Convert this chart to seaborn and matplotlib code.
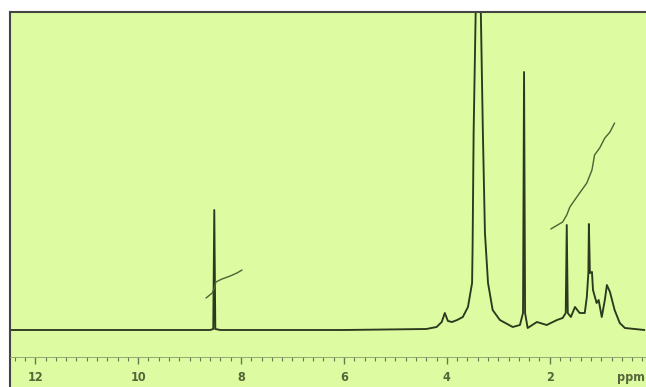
import matplotlib
matplotlib.use("Agg")
import matplotlib.pyplot as plt
import seaborn as sns
import pandas as pd

# 1H NMR trace: chemical shift (ppm) and height (px above baseline)
spec_ppm = [12.49, 10.0, 8.60, 8.54, 8.52, 8.50, 8.40, 6.0, 4.40, 4.20, 4.10, 4.04,
            3.98, 3.90, 3.80, 3.69, 3.59, 3.51, 3.50, 3.48, 3.44, 3.39, 3.34, 3.30,
            3.26, 3.20, 3.11, 2.97, 2.72, 2.58, 2.52, 2.50, 2.48, 2.43, 2.25, 2.06,
            1.86, 1.75, 1.69, 1.67, 1.65, 1.59, 1.51, 1.42, 1.32, 1.28, 1.25, 1.24,
            1.22, 1.18, 1.16, 1.09, 1.05, 0.99, 0.93, 0.89, 0.83, 0.74, 0.64, 0.54,
            0.16]
spec_int = [0, 0, 0, 1, 120, 1, 0, 0, 1, 3, 8, 17,
            9, 8, 10, 13, 23, 47, 83, 197, 318, 600, 318, 197,
            97, 47, 20, 10, 3, 5, 17, 258, 17, 2, 8, 5,
            10, 12, 17, 105, 17, 13, 23, 17, 17, 33, 57, 106,
            57, 58, 40, 27, 30, 13, 30, 45, 38, 20, 7, 2,
            0]

# integral traces
int1_ppm = [8.68, 8.56, 8.51, 8.49, 8.37, 8.21, 8.08, 7.98]
int1_val = [32, 37, 43, 48, 51, 54, 57, 60]
int2_ppm = [1.98, 1.75, 1.67, 1.61, 1.42, 1.28, 1.18, 1.13, 1.03, 0.93, 0.83, 0.74]
int2_val = [101, 108, 115, 123, 137, 147, 160, 175, 182, 192, 198, 207]

tick_ppm = [12, 10, 8, 6, 4, 2]

bg = "#ddfba0"
ink = "#2b3a1e"
label_font = ["Liberation Sans Narrow", "DejaVu Sans"]

sns.set_style("white")
fig = plt.figure(figsize=(6.46, 3.87), dpi=100, facecolor="white")
ax = fig.add_axes([10 / 646, 0, 636 / 646, 375 / 387])
ax.set_facecolor(bg)

spec = pd.DataFrame({"ppm": spec_ppm, "h": spec_int})
sns.lineplot(data=spec, x="ppm", y="h", sort=False, estimator=None,
             color=ink, linewidth=1.35, ax=ax)
sns.lineplot(x=int1_ppm, y=int1_val, sort=False, estimator=None,
             color="#4f6136", linewidth=1.0, ax=ax)
sns.lineplot(x=int2_ppm, y=int2_val, sort=False, estimator=None,
             color="#4f6136", linewidth=1.0, ax=ax)

ax.set_xlim(12.49, 0.13)
ax.set_ylim(-57, 318)

ax.spines["right"].set_visible(False)
ax.spines["top"].set_color("#444444")
ax.spines["left"].set_color("#444444")
ax.spines["top"].set_linewidth(1.5)
ax.spines["left"].set_linewidth(1.5)
ax.spines["bottom"].set_position(("data", -27))
ax.spines["bottom"].set_color("#8a9a70")
ax.spines["bottom"].set_linewidth(0.6)

ax.set_xticks(tick_ppm)
ax.set_xticklabels([str(t) for t in tick_ppm])
ax.set_xticks([i * 0.2 for i in range(1, 63)], minor=True)
ax.tick_params(axis="x", which="major", direction="out", length=5, width=1.0,
               color="#6a7a50", pad=5, labelsize=9, labelcolor="#55663a", bottom=True)
ax.tick_params(axis="x", which="minor", direction="out", length=3, width=0.8,
               color="#6a7a50", bottom=True)
for lab in ax.get_xticklabels():
    lab.set_fontweight("bold")
    lab.set_family(label_font)
    lab.set_fontstretch("condensed")
ax.set_yticks([])
ax.set_xlabel("")
ax.set_ylabel("")

ax.text(0.42, -47, "ppm", ha="center", va="center", fontsize=9, fontweight="bold",
        color="#55663a", family=label_font, fontstretch="condensed")

fig.savefig("out.png", dpi=100, facecolor="white")
